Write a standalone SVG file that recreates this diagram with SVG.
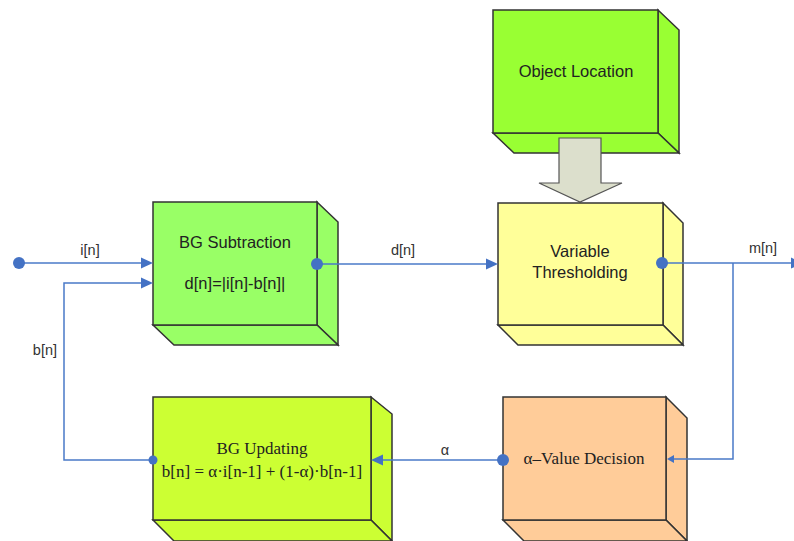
<svg xmlns="http://www.w3.org/2000/svg" width="794" height="541" viewBox="0 0 794 541">
  <style>
    .face { stroke: #333; stroke-width: 1.5; stroke-linejoin: miter; }
    .sans { font-family: "Liberation Sans", Arial, sans-serif; fill: #222; }
    .serif { font-family: "Liberation Serif", "Times New Roman", serif; fill: #222; }
    .lbl { font-family: "Liberation Sans", Arial, sans-serif; font-size: 14.5px; fill: #333; }
    .wire { fill: none; stroke: #4a7ac8; stroke-width: 1.5; }
    .dot { fill: #4472c4; }
    .head { fill: #4472c4; }
  </style>

  <!-- Object Location -->
  <g id="object-location">
    <polygon class="face" fill="#99ff33" points="658,10 679,30 679,153 658,133"/>
    <polygon class="face" fill="#99ff33" points="493,133 658,133 679,153 514,153"/>
    <rect class="face" fill="#99ff33" x="493" y="10" width="165" height="123"/>
    <text class="sans" x="576" y="77" font-size="16.5" text-anchor="middle">Object Location</text>
  </g>

  <!-- Block arrow from Object Location into thresholding -->
  <g id="location-arrow">
    <polygon fill="#dcdfcc" stroke="#555" stroke-width="1.2" points="559,138 601,138 601,183 622,183 580,202 539,183 559,183"/>
  </g>

  <!-- BG Subtraction -->
  <g id="bg-subtraction">
    <polygon class="face" fill="#99ff66" points="317,202 338,222 338,345 317,325"/>
    <polygon class="face" fill="#99ff66" points="153,325 317,325 338,345 174,345"/>
    <rect class="face" fill="#99ff66" x="153" y="202" width="164" height="123"/>
    <text class="sans" x="235" y="248" font-size="16.5" text-anchor="middle">BG Subtraction</text>
    <text class="sans" x="235" y="289" font-size="16.5" text-anchor="middle">d[n]=|i[n]-b[n]|</text>
  </g>

  <!-- Variable Thresholding -->
  <g id="variable-thresholding">
    <polygon class="face" fill="#ffff99" points="663,203 683,223 683,345 663,325"/>
    <polygon class="face" fill="#ffff99" points="498,325 663,325 683,345 518,345"/>
    <rect class="face" fill="#ffff99" x="498" y="203" width="165" height="122"/>
    <text class="sans" x="580" y="257" font-size="16.5" text-anchor="middle">Variable</text>
    <text class="sans" x="580" y="278" font-size="16.5" text-anchor="middle">Thresholding</text>
  </g>

  <!-- BG Updating -->
  <g id="bg-updating">
    <polygon class="face" fill="#ccff33" points="371,397 392,414 392,541 371,520"/>
    <polygon class="face" fill="#ccff33" points="153,520 371,520 392,541 174,541"/>
    <rect class="face" fill="#ccff33" x="153" y="397" width="218" height="123"/>
    <text class="serif" x="262" y="454" font-size="17" text-anchor="middle">BG Updating</text>
    <text class="serif" x="262" y="477" font-size="17" text-anchor="middle">b[n] = α·i[n-1] + (1-α)·b[n-1]</text>
  </g>

  <!-- Alpha value decision -->
  <g id="alpha-decision">
    <polygon class="face" fill="#ffcc99" points="666,397 687,418 687,541 666,520"/>
    <polygon class="face" fill="#ffcc99" points="503,520 666,520 687,541 524,541"/>
    <rect class="face" fill="#ffcc99" x="503" y="397" width="163" height="123"/>
    <text class="serif" x="584" y="464" font-size="17" text-anchor="middle">α–Value Decision</text>
  </g>

  <!-- Signal connectors -->
  <g id="connectors">
    <!-- i[n] input -->
    <path class="wire" d="M19,263 H142"/>
    <circle class="dot" cx="19" cy="263" r="6"/>
    <polygon class="head" points="153,263 141,257.5 141,268.5"/>
    <text class="lbl" x="90" y="255" text-anchor="middle">i[n]</text>

    <!-- b[n] feedback -->
    <path class="wire" d="M153,460 H64 V283 H142"/>
    <polygon class="head" points="153,283 141,277.5 141,288.5"/>
    <circle class="dot" cx="153" cy="460" r="4.5"/>
    <text class="lbl" x="57" y="355" text-anchor="end">b[n]</text>

    <!-- d[n] -->
    <path class="wire" d="M317,264 H487"/>
    <circle class="dot" cx="317" cy="264" r="6"/>
    <polygon class="head" points="498,264 486,258.5 486,269.5"/>
    <text class="lbl" x="403" y="255" text-anchor="middle">d[n]</text>

    <!-- m[n] output and branch to alpha decision -->
    <path class="wire" d="M662,263 H792"/>
    <circle class="dot" cx="662" cy="263" r="6"/>
    <polygon class="head" points="803,263 791,257.5 791,268.5"/>
    <text class="lbl" x="763" y="253" text-anchor="middle">m[n]</text>
    <path class="wire" d="M733,263 V459 H672"/>
    <polygon class="head" points="667,459 674,455 674,463"/>

    <!-- alpha -->
    <path class="wire" d="M503,460 H382"/>
    <circle class="dot" cx="503" cy="460" r="6"/>
    <polygon class="head" points="371,460 383,454.5 383,465.5"/>
    <text class="lbl" x="445" y="455" text-anchor="middle">α</text>
  </g>
</svg>
